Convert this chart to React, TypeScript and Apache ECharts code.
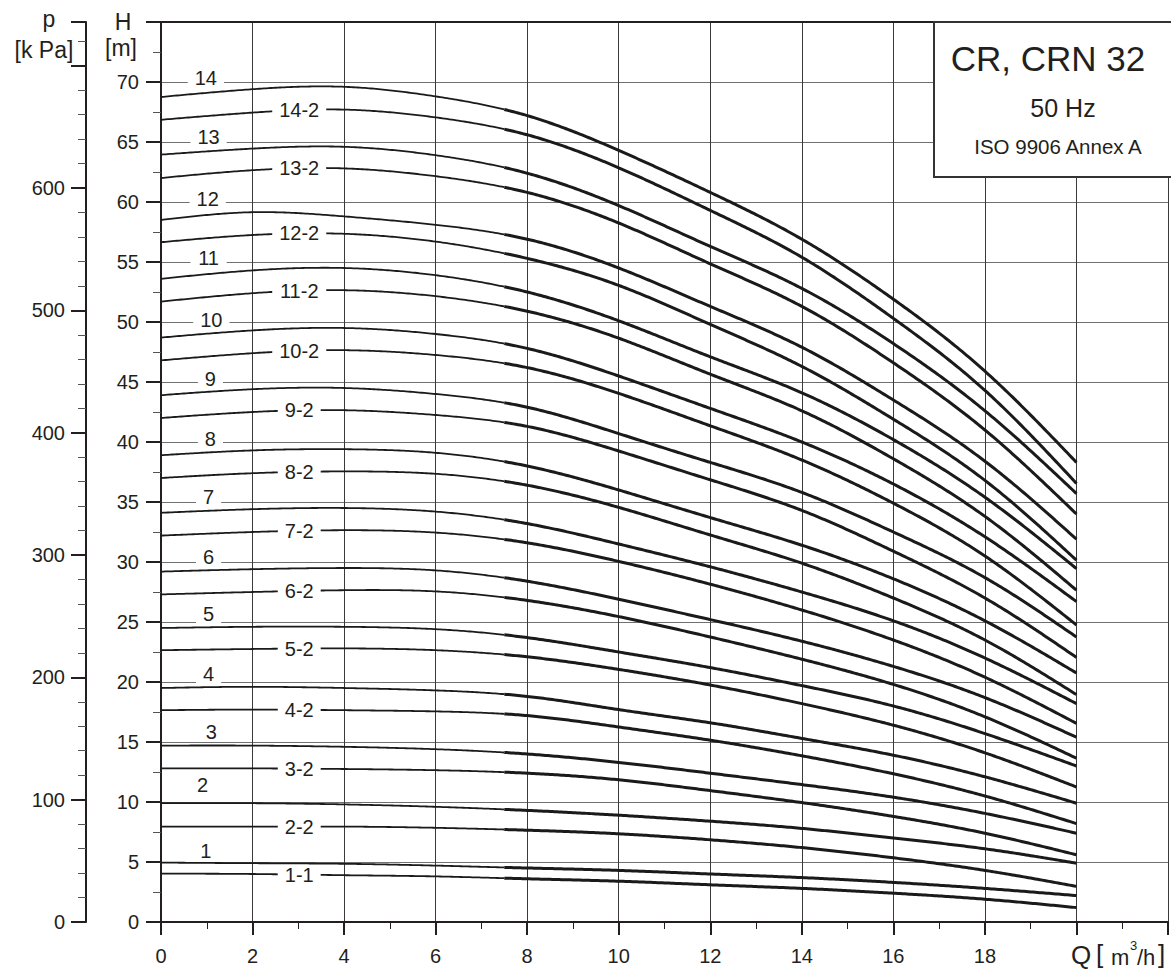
import React, { useEffect, useRef } from 'react';
import * as echarts from 'echarts';

// Flow rate sample points [m3/h]
const Q = [0, 2, 4, 6, 8, 10, 12, 14, 16, 18, 20];

// Head curves [m]
const H_14 = [68.75, 69.4, 69.6, 68.8, 67.2, 64.3, 60.8, 56.9, 51.9, 45.9, 38.3];
const H_14_2 = [66.85, 67.45, 67.7, 67.05, 65.6, 62.85, 59.3, 55.4, 50.3, 44.3, 36.55];
const H_13 = [63.95, 64.45, 64.6, 63.9, 62.4, 59.7, 56.3, 52.8, 48.2, 42.6, 35.7];
const H_13_2 = [62.0, 62.65, 62.8, 62.15, 60.8, 58.25, 54.85, 51.3, 46.6, 41.0, 34.0];
const H_12 = [58.5, 59.15, 58.8, 58.1, 56.9, 54.5, 51.3, 47.9, 43.5, 38.4, 31.9];
const H_12_2 = [56.65, 57.25, 57.35, 56.7, 55.3, 53.05, 49.8, 46.3, 41.9, 36.8, 30.15];
const H_11 = [53.6, 54.3, 54.5, 53.9, 52.5, 50.1, 47.1, 44.1, 40.2, 35.4, 29.45];
const H_11_2 = [51.7, 52.4, 52.65, 52.15, 50.9, 48.65, 45.65, 42.6, 38.6, 33.8, 27.65];
const H_10 = [48.7, 49.3, 49.5, 49.0, 47.8, 45.5, 42.8, 40.0, 36.5, 32.1, 26.7];
const H_10_2 = [46.8, 47.4, 47.65, 47.25, 46.2, 44.05, 41.35, 38.5, 34.9, 30.5, 24.75];
const H_9 = [43.9, 44.4, 44.5, 44.0, 42.9, 40.7, 38.3, 35.8, 32.5, 28.7, 23.75];
const H_9_2 = [42.0, 42.5, 42.65, 42.25, 41.3, 39.25, 36.85, 34.3, 30.9, 27.0, 22.05];
const H_8 = [38.9, 39.3, 39.4, 39.1, 38.0, 36.0, 33.7, 31.4, 28.6, 25.1, 20.75];
const H_8_2 = [37.0, 37.4, 37.55, 37.35, 36.4, 34.55, 32.25, 29.9, 27.0, 23.5, 18.95];
const H_7 = [34.1, 34.4, 34.5, 34.2, 33.2, 31.5, 29.6, 27.5, 25.1, 22.0, 18.2];
const H_7_2 = [32.2, 32.5, 32.65, 32.45, 31.6, 30.05, 28.15, 26.0, 23.5, 20.4, 16.55];
const H_6 = [29.2, 29.4, 29.5, 29.3, 28.4, 26.9, 25.2, 23.4, 21.3, 18.7, 15.4];
const H_6_2 = [27.3, 27.5, 27.65, 27.55, 26.8, 25.45, 23.75, 21.9, 19.8, 17.1, 13.65];
const H_5 = [24.5, 24.6, 24.6, 24.4, 23.7, 22.5, 21.2, 19.7, 18.0, 15.7, 13.0];
const H_5_2 = [22.65, 22.75, 22.8, 22.65, 22.1, 21.05, 19.75, 18.2, 16.4, 14.1, 11.25];
const H_4 = [19.5, 19.6, 19.5, 19.3, 18.8, 17.7, 16.6, 15.3, 13.9, 12.1, 9.9];
const H_4_2 = [17.65, 17.7, 17.65, 17.55, 17.2, 16.25, 15.15, 13.85, 12.35, 10.5, 8.2];
const H_3 = [14.7, 14.7, 14.6, 14.4, 14.0, 13.3, 12.4, 11.45, 10.4, 9.05, 7.4];
const H_3_2 = [12.8, 12.8, 12.75, 12.65, 12.4, 11.85, 10.95, 9.95, 8.8, 7.4, 5.6];
const H_2 = [9.9, 9.9, 9.8, 9.6, 9.3, 8.9, 8.4, 7.8, 7.0, 6.1, 4.9];
const H_2_2 = [7.95, 7.95, 7.95, 7.85, 7.65, 7.35, 6.85, 6.2, 5.35, 4.3, 2.97];
const H_1 = [4.95, 4.9, 4.85, 4.7, 4.5, 4.3, 4.0, 3.7, 3.3, 2.8, 2.2];
const H_1_1 = [4.03, 4.0, 3.9, 3.8, 3.6, 3.4, 3.1, 2.8, 2.4, 1.9, 1.2];

const CURVES = [
  { name: '14', data: H_14, full: true },
  { name: '14-2', data: H_14_2, full: false },
  { name: '13', data: H_13, full: true },
  { name: '13-2', data: H_13_2, full: false },
  { name: '12', data: H_12, full: true },
  { name: '12-2', data: H_12_2, full: false },
  { name: '11', data: H_11, full: true },
  { name: '11-2', data: H_11_2, full: false },
  { name: '10', data: H_10, full: true },
  { name: '10-2', data: H_10_2, full: false },
  { name: '9', data: H_9, full: true },
  { name: '9-2', data: H_9_2, full: false },
  { name: '8', data: H_8, full: true },
  { name: '8-2', data: H_8_2, full: false },
  { name: '7', data: H_7, full: true },
  { name: '7-2', data: H_7_2, full: false },
  { name: '6', data: H_6, full: true },
  { name: '6-2', data: H_6_2, full: false },
  { name: '5', data: H_5, full: true },
  { name: '5-2', data: H_5_2, full: false },
  { name: '4', data: H_4, full: true },
  { name: '4-2', data: H_4_2, full: false },
  { name: '3', data: H_3, full: true },
  { name: '3-2', data: H_3_2, full: false },
  { name: '2', data: H_2, full: true },
  { name: '2-2', data: H_2_2, full: false },
  { name: '1', data: H_1, full: true },
  { name: '1-1', data: H_1_1, full: false },
];

// Label anchors of the full-stage curves [Q, H, covers grid line]
const FULL_LABEL_POS: Record<string, [number, number, boolean]> = {
  '14': [0.98, 70.35, true], '13': [1.04, 65.45, true], '12': [1.02, 60.25, true],
  '11': [1.04, 55.3, true], '10': [1.1, 50.15, true], '9': [1.08, 45.25, true],
  '8': [1.08, 40.25, true], '7': [1.04, 35.4, true], '6': [1.04, 30.4, true],
  '5': [1.04, 25.7, true], '4': [1.04, 20.7, true], '3': [1.1, 15.8, false],
  '2': [0.91, 11.4, false], '1': [0.98, 5.9, false],
};
const REDUCED_LABEL_Q = 3.02;
const THICK_FROM_Q = 7.5;

const X_MAX = 22;
const H_MAX = 75;
const KPA_PER_M = 9.81;
const GRID_LEFT = 161;
const PX_PER_Q = 46;
const PX_PER_M = 12;

const FONT = '"Liberation Sans", Arial, Helvetica, sans-serif';
const INK = '#231f20';
const LINE = '#1a1a1a';

// natural cubic spline through the read points (rendering only)
function makeSpline(xs: number[], ys: number[]) {
  const n = xs.length;
  const h: number[] = [];
  for (let i = 0; i < n - 1; i++) h.push(xs[i + 1] - xs[i]);
  const a: number[] = new Array(n).fill(0);
  const b: number[] = new Array(n).fill(1);
  const c: number[] = new Array(n).fill(0);
  const d: number[] = new Array(n).fill(0);
  for (let i = 1; i < n - 1; i++) {
    a[i] = h[i - 1];
    b[i] = 2 * (h[i - 1] + h[i]);
    c[i] = h[i];
    d[i] = 6 * ((ys[i + 1] - ys[i]) / h[i] - (ys[i] - ys[i - 1]) / h[i - 1]);
  }
  // Thomas algorithm
  const cp = new Array(n).fill(0);
  const dp = new Array(n).fill(0);
  cp[0] = c[0] / b[0];
  dp[0] = d[0] / b[0];
  for (let i = 1; i < n; i++) {
    const m = b[i] - a[i] * cp[i - 1];
    cp[i] = c[i] / m;
    dp[i] = (d[i] - a[i] * dp[i - 1]) / m;
  }
  const M = new Array(n).fill(0);
  M[n - 1] = dp[n - 1];
  for (let i = n - 2; i >= 0; i--) M[i] = dp[i] - cp[i] * M[i + 1];
  return (x: number) => {
    let i = 0;
    while (i < n - 2 && x > xs[i + 1]) i++;
    const hi = h[i];
    const t1 = xs[i + 1] - x;
    const t0 = x - xs[i];
    return (
      (M[i] * t1 * t1 * t1) / (6 * hi) +
      (M[i + 1] * t0 * t0 * t0) / (6 * hi) +
      (ys[i] / hi - (M[i] * hi) / 6) * t1 +
      (ys[i + 1] / hi - (M[i + 1] * hi) / 6) * t0
    );
  };
}

function textWidth(s: string, size: number): number {
  let w = 0;
  for (const ch of s) w += ch === '-' ? 0.333 : 0.556;
  return w * size;
}

export default function App() {
  const ref = useRef<HTMLDivElement>(null);

  useEffect(() => {
    document.body.style.margin = '0';
    if (!ref.current) return;
    const chart = echarts.init(ref.current, null, { renderer: 'svg' });

    const labelFs = 20;
    const qEnd = Q[Q.length - 1];

    const series: any[] = CURVES.map((c) => {
      const f = makeSpline(Q, c.data);
      return {
        type: 'custom',
        name: c.name,
        data: Q.map((q, i) => [q, c.data[i]]),
        encode: { x: 0, y: 1 },
        z: 3,
        renderItem: (params: any, api: any) => {
          if (params.dataIndex !== 0) return null;
          const thin: number[][] = [];
          const thick: number[][] = [];
          const step = 0.05;
          for (let q = 0; q <= qEnd + 1e-9; q += step) {
            const qq = Math.min(q, qEnd);
            const p = api.coord([qq, f(qq)]);
            if (qq <= THICK_FROM_Q + 1e-9) thin.push(p);
            if (qq >= THICK_FROM_Q - 1e-9) thick.push(p);
          }
          const children: any[] = [
            { type: 'polyline', shape: { points: thin }, style: { stroke: LINE, lineWidth: 1.8, fill: null } },
            { type: 'polyline', shape: { points: thick }, style: { stroke: LINE, lineWidth: 3, fill: null } },
          ];
          let lp: number[];
          let cover = true;
          let rh = 16;
          if (c.full) {
            const [lq, lh, cv] = FULL_LABEL_POS[c.name];
            lp = api.coord([lq, lh]);
            cover = cv;
            rh = 20;
          } else {
            lp = api.coord([REDUCED_LABEL_Q, f(REDUCED_LABEL_Q)]);
          }
          const rw = textWidth(c.name, labelFs) + 14;
          if (cover) {
            children.push({
              type: 'rect',
              shape: { x: lp[0] - rw / 2, y: lp[1] - rh / 2, width: rw, height: rh },
              style: { fill: '#ffffff' },
              z2: 5,
            });
          }
          children.push({
            type: 'text',
            x: lp[0],
            y: lp[1],
            style: {
              text: c.name,
              fill: INK,
              font: `${labelFs}px ${FONT}`,
              align: 'center',
              verticalAlign: 'middle',
            },
            z2: 6,
          });
          return { type: 'group', children };
        },
      };
    });

    chart.setOption({
      animation: false,
      backgroundColor: '#ffffff',
      grid: { left: GRID_LEFT, top: 22, width: PX_PER_Q * X_MAX, height: PX_PER_M * H_MAX, containLabel: false },
      xAxis: {
        type: 'value',
        min: 0,
        max: X_MAX,
        interval: 2,
        axisLine: { show: true, onZero: false, lineStyle: { color: INK, width: 2 } },
        axisTick: { show: true, length: 13, lineStyle: { color: INK, width: 2 } },
        minorTick: { show: true, splitNumber: 2, length: 7, lineStyle: { color: INK, width: 1 } },
        splitLine: { show: true, lineStyle: { color: '#3a3a3a', width: 1 } },
        axisLabel: {
          margin: 24,
          color: INK,
          fontSize: 20,
          fontFamily: FONT,
          formatter: (v: number) => (v >= 20 ? '' : String(v)),
        },
      },
      yAxis: [
        {
          type: 'value',
          min: 0,
          max: H_MAX,
          interval: 5,
          position: 'left',
          axisLine: { show: true, onZero: false, lineStyle: { color: INK, width: 2 } },
          axisTick: { show: true, length: 15, lineStyle: { color: INK, width: 2 } },
          minorTick: { show: true, splitNumber: 2, length: 8, lineStyle: { color: '#555', width: 1 } },
          splitLine: { show: true, lineStyle: { color: '#707070', width: 1 } },
          axisLabel: {
            margin: 22,
            color: INK,
            fontSize: 20,
            fontFamily: FONT,
            formatter: (v: number) => (v >= 75 ? '' : String(v)),
          },
        },
        {
          type: 'value',
          min: 0,
          max: H_MAX * KPA_PER_M,
          interval: 100,
          position: 'left',
          offset: 75,
          axisLine: { show: true, onZero: false, lineStyle: { color: INK, width: 2 } },
          axisTick: { show: true, length: 15, lineStyle: { color: INK, width: 2 } },
          minorTick: { show: true, splitNumber: 5, length: 8, lineStyle: { color: '#555', width: 1 } },
          splitLine: { show: false },
          axisLabel: {
            margin: 21,
            color: INK,
            fontSize: 20,
            fontFamily: FONT,
            formatter: (v: number) => (v >= 700 ? '' : String(v)),
          },
        },
      ],
      series,
      graphic: [
        { type: 'line', shape: { x1: 161, y1: 22, x2: 1171, y2: 22 }, style: { stroke: INK, lineWidth: 2 }, z: 50 },
        { type: 'text', x: 123, y: 22, style: { text: 'H', font: `23px ${FONT}`, fill: INK, align: 'center', verticalAlign: 'middle' } },
        { type: 'text', x: 121, y: 48, style: { text: '[m]', font: `23px ${FONT}`, fill: INK, align: 'center', verticalAlign: 'middle' } },
        { type: 'text', x: 49, y: 19, style: { text: 'p', font: `23px ${FONT}`, fill: INK, align: 'center', verticalAlign: 'middle' } },
        { type: 'text', x: 44, y: 50, style: { text: '[k Pa]', font: `23px ${FONT}`, fill: INK, align: 'center', verticalAlign: 'middle' } },
        { type: 'text', x: 1071, y: 955, style: { text: 'Q', font: `26px ${FONT}`, fill: INK, align: 'left', verticalAlign: 'middle' }, z: 50 },
        { type: 'text', x: 1096, y: 954, style: { text: '[', font: `26px ${FONT}`, fill: INK, align: 'left', verticalAlign: 'middle' }, z: 50 },
        { type: 'text', x: 1111, y: 957, style: { text: 'm', font: `22px ${FONT}`, fill: INK, align: 'left', verticalAlign: 'middle' }, z: 50 },
        { type: 'text', x: 1130, y: 945, style: { text: '3', font: `13px ${FONT}`, fill: INK, align: 'left', verticalAlign: 'middle' }, z: 50 },
        { type: 'text', x: 1137, y: 957, style: { text: '/h', font: `22px ${FONT}`, fill: INK, align: 'left', verticalAlign: 'middle' }, z: 50 },
        { type: 'text', x: 1158, y: 954, style: { text: ']', font: `26px ${FONT}`, fill: INK, align: 'left', verticalAlign: 'middle' }, z: 50 },
        {
          type: 'rect',
          shape: { x: 934, y: 22, width: 260, height: 155 },
          style: { fill: '#ffffff', stroke: '#333', lineWidth: 2 },
          z: 60,
        },
        { type: 'text', x: 1048, y: 58, style: { text: 'CR, CRN 32', font: `35px ${FONT}`, fill: INK, align: 'center', verticalAlign: 'middle' }, z: 61 },
        { type: 'text', x: 1063, y: 108, style: { text: '50 Hz', font: `25px ${FONT}`, fill: INK, align: 'center', verticalAlign: 'middle' }, z: 61 },
        { type: 'text', x: 1058, y: 146, style: { text: 'ISO 9906 Annex A', font: `20.5px ${FONT}`, fill: INK, align: 'center', verticalAlign: 'middle' }, z: 61 },
      ],
    });

    return () => chart.dispose();
  }, []);

  return <div ref={ref} style={{ width: 1171, height: 969 }} />;
}
